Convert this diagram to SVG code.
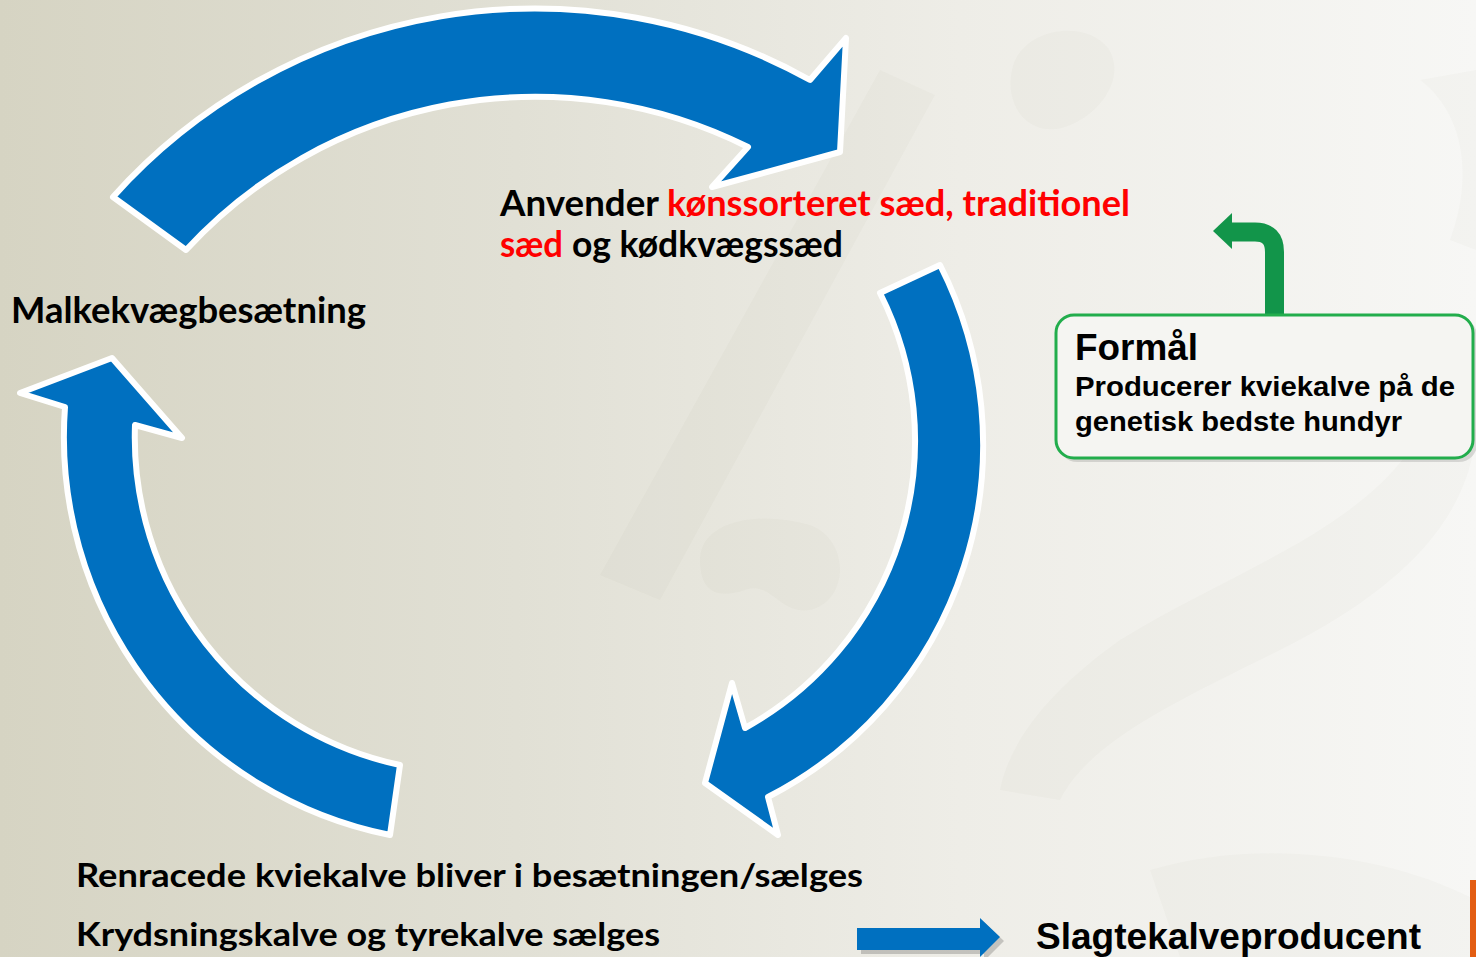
<svg xmlns="http://www.w3.org/2000/svg" width="1476" height="957" viewBox="0 0 1476 957">
  <defs>
    <linearGradient id="bg" x1="0" y1="0" x2="1" y2="0">
      <stop offset="0" stop-color="#d6d4c3"/>
      <stop offset="0.35" stop-color="#e1e0d5"/>
      <stop offset="0.65" stop-color="#eeede7"/>
      <stop offset="1" stop-color="#f7f7f5"/>
    </linearGradient>
    <style>
      .cyc { fill: #0070c0; stroke: #ffffff; stroke-width: 6; stroke-linejoin: round; }
      .lbl { font-family: Lato, "Open Sans", sans-serif; font-weight: 700; fill: #000000; }
      .red { fill: #ff0000; }
      .ar { font-family: "Liberation Sans", Arial, sans-serif; font-weight: 700; fill: #000000; }
      .wm { fill: #6b6a50; opacity: 0.028; }
    </style>
  </defs>

  <!-- background -->
  <rect x="0" y="0" width="1476" height="957" fill="url(#bg)"/>
  <g id="watermark">
    <path class="wm" d="M1012,70 C1020,28 1085,18 1108,48 C1128,78 1098,118 1062,128 C1030,136 1004,108 1012,70 Z"/>
    <path class="wm" d="M880,70 L935,95 L660,600 L600,575 Z"/>
    <path class="wm" d="M700,560 C700,520 760,510 810,525 C850,540 850,600 810,610 C780,615 770,580 745,590 C715,600 700,590 700,560 Z"/>
    <path class="wm" d="M1440,390 C1400,520 1250,560 1120,640 C1050,690 1010,740 1000,790 L1060,800 C1090,740 1180,700 1280,650 C1400,590 1470,520 1476,430 Z"/>
    <path class="wm" d="M1420,80 C1460,110 1476,170 1450,240 L1476,250 L1476,70 Z"/>
    <path class="wm" d="M1150,870 C1250,840 1380,850 1476,900 L1476,957 L1180,957 Z"/>
  </g>

  <!-- connectors -->
  <g id="connectors">
    <path id="arrow-top" class="cyc" d="M113,197 A566,566 0 0 1 810,80 L846,38 L840,152 L712,187 L748,147 A475,475 0 0 0 186,250 Z"/>
    <path id="arrow-right" class="cyc" d="M880,293 L940,265 A396,396 0 0 1 768,797 L778,835 L705,783 L732,683 L745,728 A328,328 0 0 0 880,293 Z"/>
    <path id="arrow-left" class="cyc" d="M390,835 A406,406 0 0 1 65,407 L20,393 L112,358 L182,438 L135,425 A335,335 0 0 0 400,765 Z"/>
    <g id="arrow-goal">
      <path d="M1274.5,316 L1274.5,252 Q1274.5,232 1255,232 L1229,232" fill="none" stroke="#12954a" stroke-width="19"/>
      <polygon points="1232,213 1213,231 1232,249" fill="#12954a"/>
    </g>
    <g id="arrow-slagt">
      <polygon points="861,932 984,932 984,922 1004,941 984,961 984,954 861,954" fill="#000000" opacity="0.18"/>
      <polygon points="857,928 980,928 980,918 1000,937 980,957 980,950 857,950" fill="#0070c0"/>
    </g>
  </g>

  <!-- nodes -->
  <g id="node-anvender">
    <text class="lbl" x="500" y="216" font-size="37" textLength="159" lengthAdjust="spacingAndGlyphs">Anvender</text>
    <text class="lbl red" x="667" y="216" font-size="37" textLength="463" lengthAdjust="spacingAndGlyphs">kønssorteret sæd, traditionel</text>
    <text class="lbl red" x="500" y="257" font-size="37" textLength="63" lengthAdjust="spacingAndGlyphs">sæd</text>
    <text class="lbl" x="572" y="257" font-size="37" textLength="271" lengthAdjust="spacingAndGlyphs">og kødkvægssæd</text>
  </g>
  <g id="node-malkekvaeg">
    <text class="lbl" x="11" y="323" font-size="37" textLength="355" lengthAdjust="spacingAndGlyphs">Malkekvægbesætning</text>
  </g>
  <g id="node-kalve">
    <text class="lbl" x="76" y="887" font-size="32" textLength="787" lengthAdjust="spacingAndGlyphs">Renracede kviekalve bliver i besætningen/sælges</text>
    <text class="lbl" x="76" y="946" font-size="32" textLength="584" lengthAdjust="spacingAndGlyphs">Krydsningskalve og tyrekalve sælges</text>
  </g>
  <g id="node-slagtekalve">
    <text class="ar" x="1036" y="949" font-size="37" textLength="385" lengthAdjust="spacingAndGlyphs">Slagtekalveproducent</text>
  </g>
  <g id="node-formaal">
    <rect x="1059" y="318" width="418" height="144" rx="18" fill="#000000" opacity="0.12"/>
    <rect x="1056" y="315" width="417" height="143" rx="18" fill="#f5f5f2" stroke="#22ad4c" stroke-width="3"/>
    <text class="ar" x="1075" y="360" font-size="36" textLength="123" lengthAdjust="spacingAndGlyphs">Formål</text>
    <text class="ar" x="1075" y="396" font-size="28" textLength="380" lengthAdjust="spacingAndGlyphs">Producerer kviekalve på de</text>
    <text class="ar" x="1075" y="431" font-size="28" textLength="327" lengthAdjust="spacingAndGlyphs">genetisk bedste hundyr</text>
  </g>

  <rect id="edge-bar" x="1470" y="880" width="6" height="77" fill="#e35d12"/>
</svg>
